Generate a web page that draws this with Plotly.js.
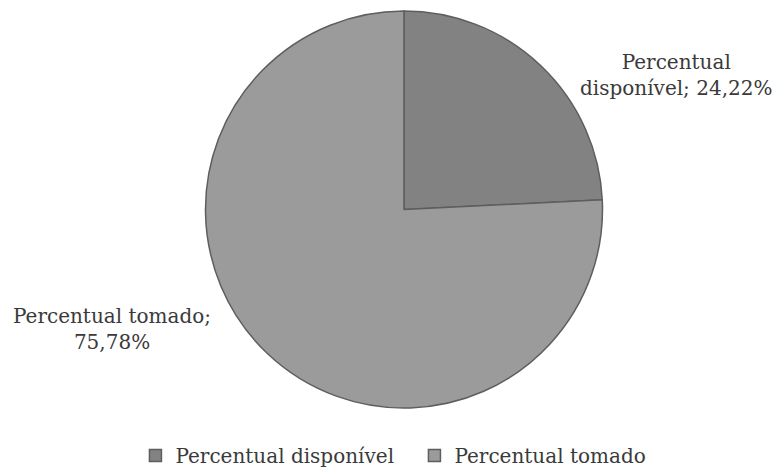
<!DOCTYPE html>
<html><head><meta charset="utf-8">
<script src="https://cdn.plot.ly/plotly-3.0.1.min.js"></script>
<style>body{margin:0;background:#fff}#c{width:777px;height:475px}</style>
</head><body><div id="c"></div>
<script>
var labels = ["Percentual disponível", "Percentual tomado"];
var values = [24.22, 75.78];
var colors = ["#828282", "#9b9b9b"];
var labelLines = [["Percentual", "disponível; "], ["Percentual tomado;", ""]];

function fmt(v){ return v.toFixed(2).replace(".", ",") + "%"; }

var trace = {
  type: "pie",
  labels: labels,
  values: values,
  sort: false,
  direction: "clockwise",
  rotation: 0,
  textinfo: "none",
  hoverinfo: "label+percent",
  marker: {colors: colors, line: {color: "#5e5e5e", width: 1.5}},
  domain: {x: [0, 1], y: [0, 1]}
};

var layout = {
  width: 777, height: 475,
  margin: {l: 31, r: 0, t: 11, b: 60},
  paper_bgcolor: "#ffffff",
  font: {family: "DejaVu Serif, Liberation Serif, serif", size: 20, color: "#3a3a3a"},
  showlegend: true,
  legend: {orientation: "h", x: 0.14, xanchor: "left", y: -0.12, yanchor: "middle",
           font: {size: 20, color: "#3a3a3a"}, itemwidth: 30, traceorder: "normal",
           entrywidth: 234, entrywidthmode: "pixels"},
  annotations: [
    {xref: "paper", yref: "paper", x: 0.864, y: 0.84, xanchor: "center", yanchor: "middle",
     text: labelLines[0][0] + "<br>" + labelLines[0][1] + fmt(values[0]), showarrow: false,
     align: "center", font: {size: 20, color: "#3a3a3a"}},
    {xref: "paper", yref: "paper", x: 0.108, y: 0.2, xanchor: "center", yanchor: "middle",
     text: labelLines[1][0] + "<br>" + fmt(values[1]), showarrow: false,
     align: "center", font: {size: 20, color: "#3a3a3a"}}
  ]
};

Plotly.newPlot("c", [trace], layout, {displayModeBar: false, staticPlot: true});
</script></body></html>
